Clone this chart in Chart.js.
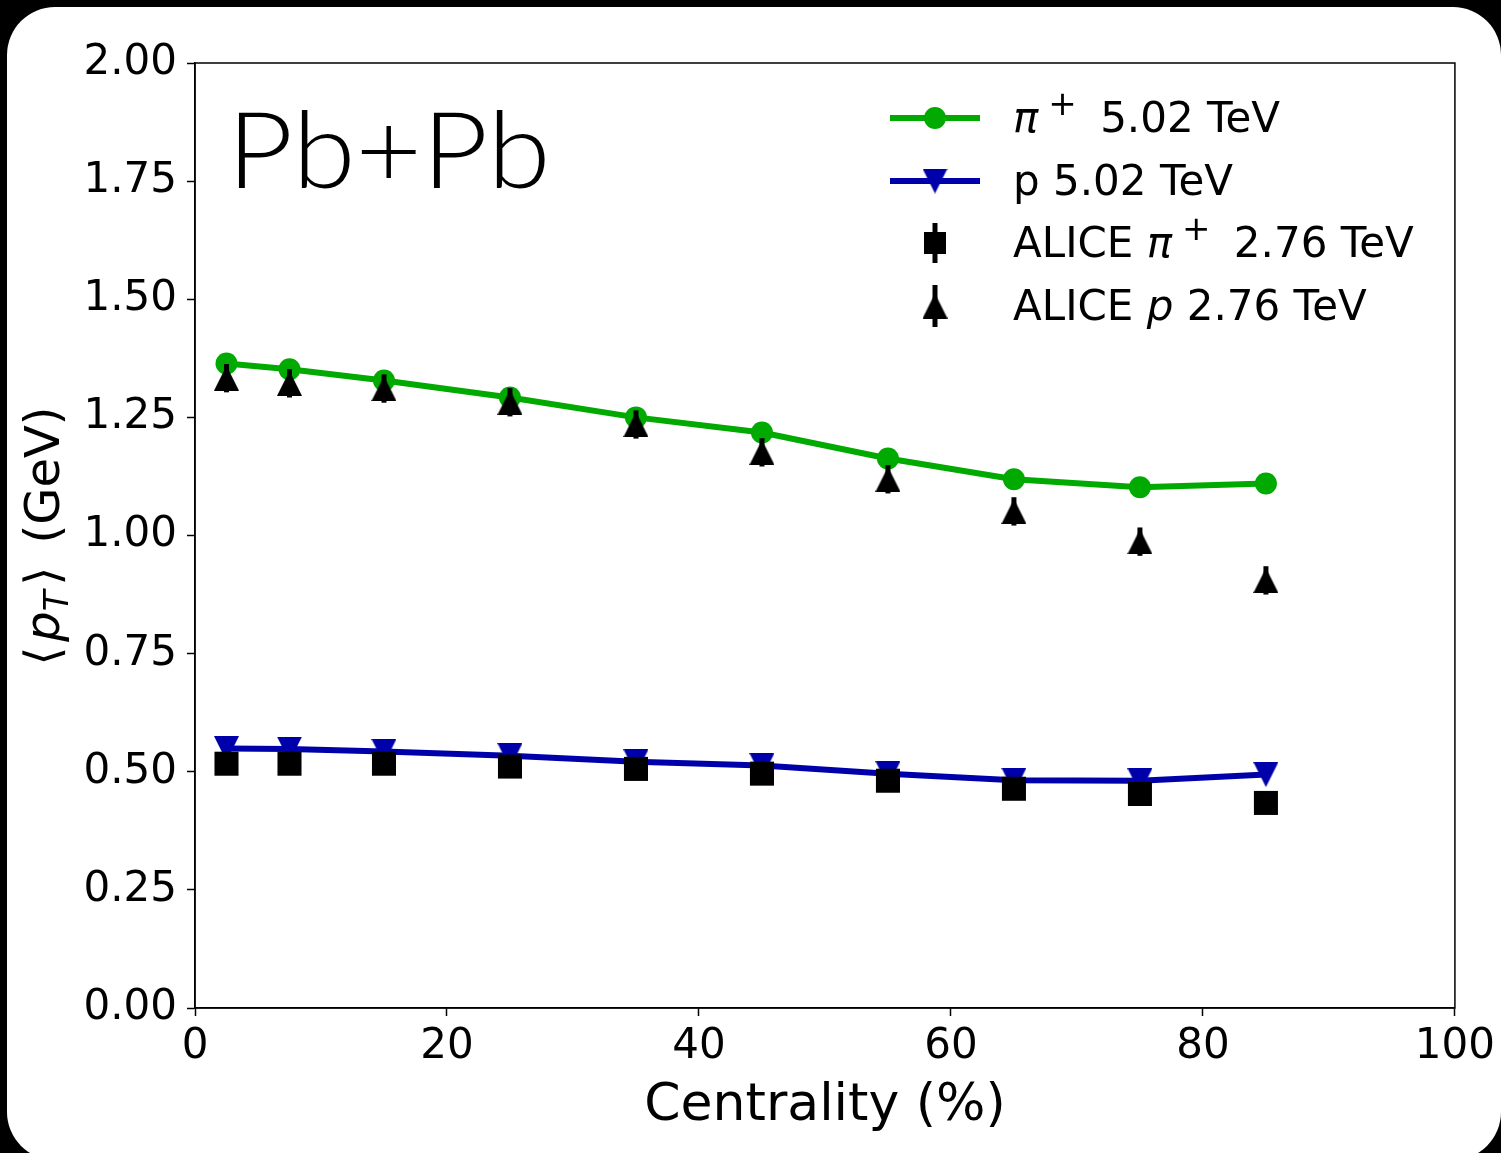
<!DOCTYPE html>
<html>
<head>
<meta charset="utf-8">
<script src="https://cdn.jsdelivr.net/npm/chart.js@4.4.1/dist/chart.umd.min.js"></script>
<style>
  html, body { margin: 0; padding: 0; background: #000; }
  #frame { position: absolute; left: 7px; top: 7px; width: 1494px; height: 1153px; background: #fff; border-radius: 48px; }
  #chart { position: absolute; left: 0; top: 0; }
</style>
</head>
<body>
<div id="frame"></div>
<canvas id="chart" width="1501" height="1153"></canvas>
<script>
// centrality bins (%)
const centrality = [2.5, 7.5, 15, 25, 35, 45, 55, 65, 75, 85];

// model curves at 5.02 TeV
const pion502 = [1.364, 1.352, 1.328, 1.292, 1.250, 1.218, 1.163, 1.119, 1.102, 1.110];
const proton502 = [0.549, 0.548, 0.543, 0.534, 0.521, 0.513, 0.496, 0.482, 0.481, 0.494];

// ALICE 2.76 TeV points with errors
const alicePion = [0.517, 0.517, 0.517, 0.511, 0.506, 0.496, 0.481, 0.464, 0.453, 0.434];
const alicePionErr = [0.02, 0.02, 0.02, 0.02, 0.02, 0.02, 0.02, 0.02, 0.02, 0.02];
const aliceProton = [1.333, 1.322, 1.311, 1.282, 1.235, 1.176, 1.119, 1.051, 0.987, 0.905];
const aliceProtonErr = [0.03, 0.03, 0.03, 0.03, 0.03, 0.03, 0.03, 0.03, 0.03, 0.03];

const xTicks = [0, 20, 40, 60, 80, 100];
const yTicks = [0, 0.25, 0.5, 0.75, 1.0, 1.25, 1.5, 1.75, 2.0];

const GREEN = '#00aa00';
const BLUE = '#0000aa';
const FONT = '"DejaVu Sans"';

function triImg(color, down, size) {
  const c = document.createElement('canvas');
  c.width = size; c.height = size;
  const g = c.getContext('2d');
  g.fillStyle = color;
  g.beginPath();
  if (down) { g.moveTo(0, 0); g.lineTo(size, 0); g.lineTo(size / 2, size); }
  else { g.moveTo(size / 2, 0); g.lineTo(size, size); g.lineTo(0, size); }
  g.closePath();
  g.fill();
  return c;
}
const triDown = triImg(BLUE, true, 25);
const triUp = triImg('#000', false, 25);

const pts = ys => centrality.map((x, i) => ({ x: x, y: ys[i] }));

// draw text pieces (italic, super/subscript) along a baseline
function drawRich(ctx, x, y, pieces, size, align) {
  const fontOf = p => (p.it ? 'italic ' : '') + Math.round(size * (p.scale || 1)) + 'px ' + FONT;
  let total = 0;
  pieces.forEach(p => { ctx.font = fontOf(p); p.w = ctx.measureText(p.t).width + (p.gap || 0); total += p.w; });
  let cx = align === 'center' ? x - total / 2 : x;
  ctx.textAlign = 'left';
  ctx.textBaseline = 'alphabetic';
  pieces.forEach(p => {
    ctx.font = fontOf(p);
    ctx.fillText(p.t, cx, y + (p.dy || 0));
    cx += p.w;
  });
}

const errorBars = {
  id: 'errorBars',
  beforeDatasetDraw(chart, args) {
    const ds = chart.data.datasets[args.index];
    if (!ds.errors) return;
    const { ctx, scales: { x, y } } = chart;
    ctx.save();
    ctx.strokeStyle = '#000';
    ctx.lineWidth = 5;
    ds.data.forEach((p, i) => {
      const px = x.getPixelForValue(p.x);
      ctx.beginPath();
      ctx.moveTo(px, y.getPixelForValue(p.y - ds.errors[i]));
      ctx.lineTo(px, y.getPixelForValue(p.y + ds.errors[i]));
      ctx.stroke();
    });
    ctx.restore();
  }
};

const decorations = {
  id: 'decorations',
  afterDraw(chart) {
    const { ctx, chartArea: a } = chart;
    ctx.save();
    // frame around axes
    ctx.strokeStyle = '#000';
    ctx.lineWidth = 1.5;
    ctx.strokeRect(a.left, a.top, a.right - a.left, a.bottom - a.top);

    ctx.fillStyle = '#000';
    // Pb+Pb label
    ctx.save();
    ctx.translate(227, 188);
    ctx.scale(1.08, 1);
    ctx.font = '300 106px Lato';
    ctx.textAlign = 'left';
    ctx.textBaseline = 'alphabetic';
    ctx.fillText('Pb+Pb', 0, 0);
    ctx.restore();

    // x title
    ctx.font = '52px ' + FONT;
    ctx.textAlign = 'center';
    ctx.fillText('Centrality (%)', 825, 1120);

    // y title
    ctx.save();
    ctx.translate(59, 536);
    ctx.rotate(-Math.PI / 2);
    drawRich(ctx, 0, 0, [
      { t: '\u27E8', gap: 5 },
      { t: 'p', it: true },
      { t: 'T', it: true, scale: 0.7, dy: 9, gap: 5 },
      { t: '\u27E9', gap: 8 },
      { t: ' (GeV)' }
    ], 48, 'center');
    ctx.restore();

    // legend
    const lx = 935, tx = 1013, rows = [118, 181, 243, 306];
    ctx.lineWidth = 6;
    ctx.strokeStyle = GREEN;
    ctx.beginPath(); ctx.moveTo(890, rows[0]); ctx.lineTo(980, rows[0]); ctx.stroke();
    ctx.fillStyle = GREEN;
    ctx.beginPath(); ctx.arc(lx, rows[0], 11, 0, Math.PI * 2); ctx.fill();
    ctx.strokeStyle = BLUE;
    ctx.beginPath(); ctx.moveTo(890, rows[1]); ctx.lineTo(980, rows[1]); ctx.stroke();
    ctx.drawImage(triDown, lx - 12.5, rows[1] - 12.5);
    ctx.strokeStyle = '#000';
    ctx.lineWidth = 5;
    ctx.beginPath(); ctx.moveTo(lx, rows[2] - 20); ctx.lineTo(lx, rows[2] + 20); ctx.stroke();
    ctx.fillStyle = '#000';
    ctx.fillRect(lx - 11, rows[2] - 11, 22, 22);
    ctx.beginPath(); ctx.moveTo(lx, rows[3] - 21); ctx.lineTo(lx, rows[3] + 21); ctx.stroke();
    ctx.drawImage(triUp, lx - 12.5, rows[3] - 12.5);

    const base = 14;
    drawRich(ctx, tx, rows[0] + base, [
      { t: '\u03C0', it: true, gap: 10 }, { t: '+', scale: 0.8, dy: -17, gap: 10 }, { t: ' 5.02 TeV' }
    ], 42, 'left');
    drawRich(ctx, tx, rows[1] + base, [{ t: 'p 5.02 TeV' }], 42, 'left');
    drawRich(ctx, tx, rows[2] + base, [
      { t: 'ALICE ' }, { t: '\u03C0', it: true, gap: 10 }, { t: '+', scale: 0.8, dy: -17, gap: 10 }, { t: ' 2.76 TeV' }
    ], 42, 'left');
    drawRich(ctx, tx, rows[3] + base, [
      { t: 'ALICE ' }, { t: 'p', it: true }, { t: ' 2.76 TeV' }
    ], 42, 'left');
    ctx.restore();
  }
};

const ctx = document.getElementById('chart').getContext('2d');

new Chart(ctx, {
  type: 'scatter',
  data: {
    datasets: [
      {
        label: 'ALICE p 2.76 TeV', data: pts(aliceProton), errors: aliceProtonErr,
        showLine: false, pointStyle: triUp, pointRadius: 12.5, order: 0
      },
      {
        label: 'ALICE pi+ 2.76 TeV', data: pts(alicePion), errors: alicePionErr,
        showLine: false, pointStyle: 'rect', pointRadius: 17,
        pointBackgroundColor: '#000', pointBorderWidth: 0, order: 0
      },
      {
        label: 'pi+ 5.02 TeV', data: pts(pion502), showLine: true,
        borderColor: GREEN, borderWidth: 6, pointStyle: 'circle', pointRadius: 11,
        pointBackgroundColor: GREEN, pointBorderWidth: 0, order: 1
      },
      {
        label: 'p 5.02 TeV', data: pts(proton502), showLine: true,
        borderColor: BLUE, borderWidth: 6, pointStyle: triDown, pointRadius: 12.5, order: 1
      }
    ]
  },
  options: {
    responsive: false,
    animation: false,
    events: [],
    layout: { padding: { left: 0, top: 63, right: 46, bottom: 0 } },
    plugins: { legend: { display: false }, tooltip: { enabled: false } },
    scales: {
      x: {
        type: 'linear', min: 0, max: 100,
        afterFit: s => { s.height = 145; },
        afterBuildTicks: s => { s.ticks = xTicks.map(v => ({ value: v })); },
        grid: { drawOnChartArea: false, drawTicks: true, tickLength: 8, tickWidth: 1.5, tickColor: '#000' },
        border: { color: '#000', width: 1.5 },
        ticks: { color: '#000', padding: 6, font: { family: 'DejaVu Sans', size: 42 }, maxRotation: 0 }
      },
      y: {
        type: 'linear', min: 0, max: 2,
        afterFit: s => { s.width = 195; },
        afterBuildTicks: s => { s.ticks = yTicks.map(v => ({ value: v })); },
        grid: { drawOnChartArea: false, drawTicks: true, tickLength: 8, tickWidth: 1.5, tickColor: '#000' },
        border: { color: '#000', width: 1.5 },
        ticks: { color: '#000', padding: 10, font: { family: 'DejaVu Sans', size: 42 }, callback: v => v.toFixed(2) }
      }
    }
  },
  plugins: [errorBars, decorations]
});
</script>
</body>
</html>
